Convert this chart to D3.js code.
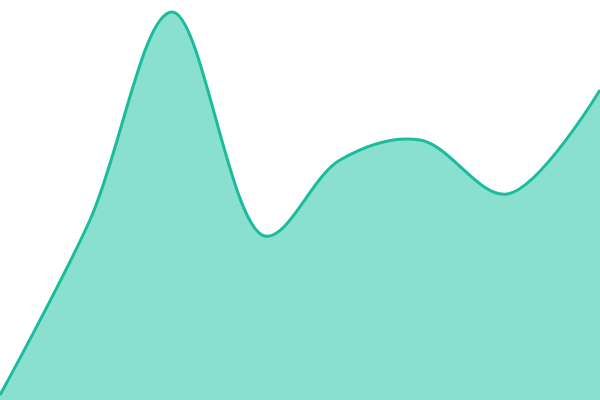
<!DOCTYPE html>
<html>
<head>
<meta charset="utf-8">
<script src="https://cdn.jsdelivr.net/npm/d3@7"></script>
<style>
  html, body { margin: 0; padding: 0; background: #fff; }
  svg { display: block; }
</style>
</head>
<body>
<div id="chart"></div>
<script>
// positions along the x axis and the heights
const xs = [0, 90, 172, 265, 340, 420, 507, 600];
const values = [5, 180, 388, 164, 240, 260, 206, 310];

const width = 600,
    height = 400;

let x = d3.scaleLinear()
    .domain([0, 600])
    .range([0, width]);

let y = d3.scaleLinear()
    .domain([0, 400])
    .range([height, 0]);

const data = xs.map((d, i) => ({ x: d, v: values[i] }));

let svg = d3.select("#chart").append("svg")
    .attr("width", width)
    .attr("height", height);

let area = d3.area()
    .curve(d3.curveCatmullRom)
    .x(d => x(d.x))
    .y0(y(0))
    .y1(d => y(d.v));

let line = d3.line()
    .curve(d3.curveCatmullRom)
    .x(d => x(d.x))
    .y(d => y(d.v));

svg.append("path")
    .datum(data)
    .attr("fill", "#8ae0cf")
    .attr("d", area);

svg.append("path")
    .datum(data)
    .attr("fill", "none")
    .attr("stroke", "#1abc9c")
    .attr("stroke-width", 3)
    .attr("d", line);
</script>
</body>
</html>
